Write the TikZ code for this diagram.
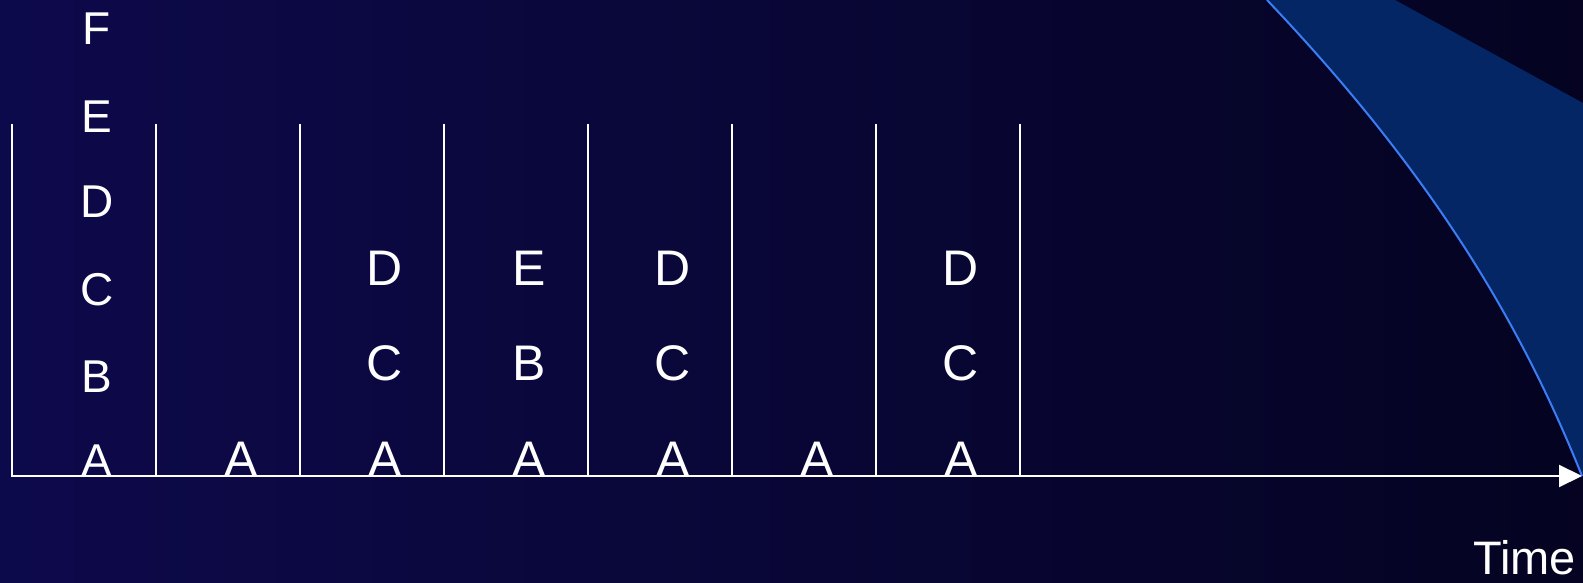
\documentclass[tikz,border=0pt]{standalone}
\usepackage{fontspec}
\setmainfont{Liberation Sans}
\usetikzlibrary{arrows.meta}
\definecolor{bgL}{RGB}{14,10,78}
\definecolor{bgR}{RGB}{0,0,12}
\definecolor{swoosh}{RGB}{4,38,100}
\definecolor{swooshedge}{RGB}{60,125,245}
\pgfdeclarehorizontalshading{bgshade}{100bp}{color(0bp)=(bgL); color(22bp)=(bgL); color(100bp)=(bgR)}
\tikzset{
  letter/.style={text=white, font=\fontsize{50}{50}\selectfont, inner sep=0pt, anchor=base},
  firstletter/.style={letter, font=\fontsize{46}{46}\selectfont},
  sep/.style={draw=white, line width=1.6pt},
  axis/.style={draw=white, line width=2pt, -{Triangle[length=23pt,width=22pt]}},
}
\begin{document}
\begin{tikzpicture}[x=1pt,y=-1pt]
\useasboundingbox (0,0) rectangle (1583,583);
\shade[shading=bgshade] (0,0) rectangle (1583,583);
% decorative swoosh
\fill[swoosh] (1267,0) .. controls (1419,160) and (1514,306) .. (1582,476)
  -- (1583,476) -- (1583,103) -- (1395,0) -- cycle;
\draw[swooshedge, line width=2pt] (1267,0) .. controls (1419,160) and (1514,306) .. (1582,476);
% separators
\foreach \i in {0,...,7} {
  \coordinate (t\i) at ({12+144*\i},124);
  \coordinate (b\i) at ({12+144*\i},476);
  \draw[sep] (t\i) -- (b\i);
}
% axis
\coordinate (O) at (11,476);
\coordinate (E) at (1582,476);
\draw[axis] (O) -- (E);
% column 1
\node[firstletter] (c1A) at (97,476) {A};
\node[firstletter] (c1B) at (97,392) {B};
\node[firstletter] (c1C) at (97,305) {C};
\node[firstletter] (c1D) at (97,218) {D};
\node[firstletter] (c1E) at (97,133) {E};
\node[firstletter] (c1F) at (97,45) {F};
% column 2
\node[letter] (c2A) at (241,476) {A};
% column 3
\node[letter] (c3A) at (385,476) {A};
\node[letter] (c3C) at (385,380) {C};
\node[letter] (c3D) at (385,285) {D};
% column 4
\node[letter] (c4A) at (529,476) {A};
\node[letter] (c4B) at (529,380) {B};
\node[letter] (c4E) at (529,285) {E};
% column 5
\node[letter] (c5A) at (673,476) {A};
\node[letter] (c5C) at (673,380) {C};
\node[letter] (c5D) at (673,285) {D};
% column 6
\node[letter] (c6A) at (817,476) {A};
% column 7
\node[letter] (c7A) at (961,476) {A};
\node[letter] (c7C) at (961,380) {C};
\node[letter] (c7D) at (961,285) {D};
% time label
\node[letter, font=\fontsize{47}{47}\selectfont, text depth=0pt, anchor=base east] (time) at (1576,574) {Time};
\end{tikzpicture}
\end{document}
